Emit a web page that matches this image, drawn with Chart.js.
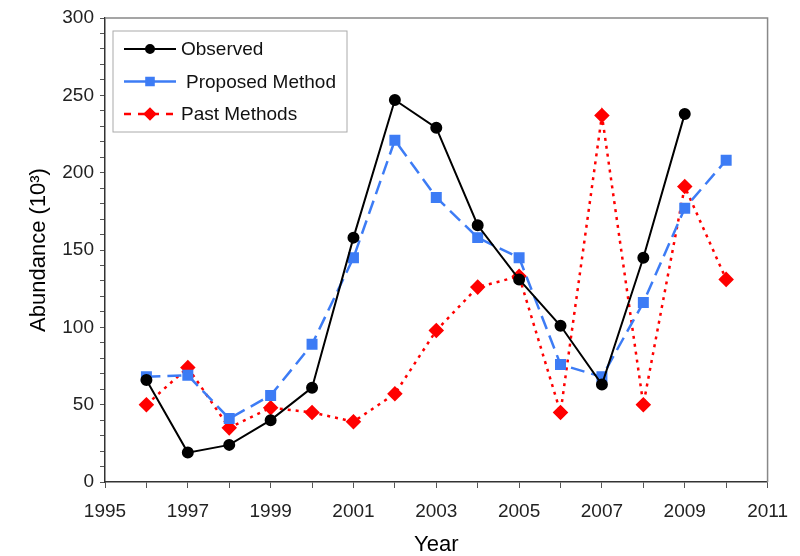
<!DOCTYPE html>
<html lang="en">
<head>
    <meta charset="UTF-8">
    <title>Abundance</title>
    <script src="https://cdn.jsdelivr.net/npm/chart.js"></script>
    <style>
        body { margin: 0; background: #fff; }
        #wrap { width: 800px; height: 556px; }
    </style>
</head>
<body>
    <div id="wrap"><canvas id="chart"></canvas></div>

    <script>
        const years = [1996, 1997, 1998, 1999, 2000, 2001, 2002, 2003, 2004, 2005, 2006, 2007, 2008, 2009, 2010];
        const observed = [66, 19, 24, 40, 61, 158, 247, 229, 166, 131, 101, 63, 145, 238, null];
        const proposed = [68, 69, 41, 56, 89, 145, 221, 184, 158, 145, 76, 68, 116, 177, 208];
        const past = [50, 74, 35, 48, 45, 39, 57, 98, 126, 133, 45, 237, 50, 191, 131];
        const seriesNames = ["Observed", "Proposed Method", "Past Methods"];

        const FONT = "'Liberation Sans', Arial, sans-serif";
        const pts = arr => years.map((yr, i) => ({ x: yr, y: arr[i] })).filter(p => p.y !== null);

        // legend box drawn inside the plot, top-left
        const boxLegend = {
            id: "boxLegend",
            afterDraw(chart) {
                const ctx = chart.ctx;
                const a = chart.chartArea;
                ctx.save();
                // gray frame on top and right
                ctx.strokeStyle = "#888";
                ctx.lineWidth = 1.5;
                ctx.beginPath();
                ctx.moveTo(a.left, a.top);
                ctx.lineTo(a.right, a.top);
                ctx.lineTo(a.right, a.bottom);
                ctx.stroke();

                const bx = a.left + 8, by = a.top + 13, bw = 234, bh = 101;
                ctx.strokeStyle = "#aaa";
                ctx.lineWidth = 1;
                ctx.strokeRect(bx, by, bw, bh);

                ctx.font = "19px " + FONT;
                ctx.textBaseline = "middle";
                const legDash = [[], [], [7, 7]];
                chart.data.datasets.forEach((ds, i) => {
                    const y = by + 18 + i * 32.5;
                    ctx.strokeStyle = ds.borderColor;
                    ctx.lineWidth = ds.borderWidth;
                    ctx.setLineDash(legDash[i]);
                    ctx.beginPath();
                    ctx.moveTo(bx + 11, y);
                    ctx.lineTo(bx + 63, y);
                    ctx.stroke();
                    ctx.setLineDash([]);
                    ctx.fillStyle = ds.borderColor;
                    Chart.helpers.drawPoint(ctx, {
                        pointStyle: ds.pointStyle,
                        radius: ds.pointRadius - 1,
                        borderWidth: 1
                    }, bx + 37, y);
                    ctx.fillStyle = "#111";
                    ctx.fillText(ds.label, bx + 68 + (i === 1 ? 5 : 0), y + 1);
                });
                ctx.restore();
            }
        };

        const ctx = document.getElementById("chart").getContext("2d");

        new Chart(ctx, {
            type: "line",
            data: {
                datasets: [
                    {
                        label: seriesNames[0],
                        data: pts(observed),
                        borderColor: "#000",
                        backgroundColor: "#000",
                        pointBackgroundColor: "#000",
                        pointBorderColor: "#000",
                        borderWidth: 2,
                        pointStyle: "circle",
                        pointRadius: 5
                    },
                    {
                        label: seriesNames[1],
                        data: pts(proposed),
                        borderColor: "#3d7cf5",
                        backgroundColor: "#3d7cf5",
                        pointBackgroundColor: "#3d7cf5",
                        pointBorderColor: "#3d7cf5",
                        borderWidth: 2.5,
                        borderDash: [14, 7],
                        pointStyle: "rect",
                        pointRadius: 6
                    },
                    {
                        label: seriesNames[2],
                        data: pts(past),
                        borderColor: "#ff0000",
                        backgroundColor: "#ff0000",
                        pointBackgroundColor: "#ff0000",
                        pointBorderColor: "#ff0000",
                        borderWidth: 2.5,
                        borderDash: [3, 5],
                        pointStyle: "rectRot",
                        pointRadius: 6
                    }
                ]
            },
            options: {
                responsive: true,
                maintainAspectRatio: false,
                animation: false,
                layout: { padding: { top: 18, right: 32, left: 22, bottom: 0 } },
                scales: {
                    x: {
                        type: "linear",
                        min: 1995,
                        max: 2011,
                        afterFit: s => { s.height = 74; },
                        ticks: {
                            stepSize: 1,
                            autoSkip: false,
                            maxRotation: 0,
                            color: "#222",
                            padding: 12,
                            font: { size: 19, family: FONT },
                            callback: v => (v % 2 === 1 ? String(v) : "")
                        },
                        grid: { drawOnChartArea: false, tickLength: 6, color: "#555" },
                        border: { color: "#333", width: 1.5 },
                        title: {
                            display: true,
                            text: "Year",
                            color: "#000",
                            font: { size: 22, family: FONT, lineHeight: 0.6 },
                            padding: { top: 8 }
                        }
                    },
                    y: {
                        min: 0,
                        max: 300,
                        afterFit: s => { s.width = 83; },
                        ticks: {
                            stepSize: 10,
                            autoSkip: false,
                            color: "#222",
                            padding: 6,
                            font: { size: 19, family: FONT },
                            callback: v => (v % 50 === 0 ? String(v) : "")
                        },
                        grid: { drawOnChartArea: false, tickLength: 5, color: "#555" },
                        border: { color: "#333", width: 1.5 },
                        title: {
                            display: true,
                            text: "Abundance (10³)",
                            color: "#000",
                            font: { size: 22, family: FONT }
                        }
                    }
                },
                plugins: {
                    legend: { display: false },
                    tooltip: { enabled: false }
                }
            },
            plugins: [boxLegend]
        });
    </script>
</body>
</html>
